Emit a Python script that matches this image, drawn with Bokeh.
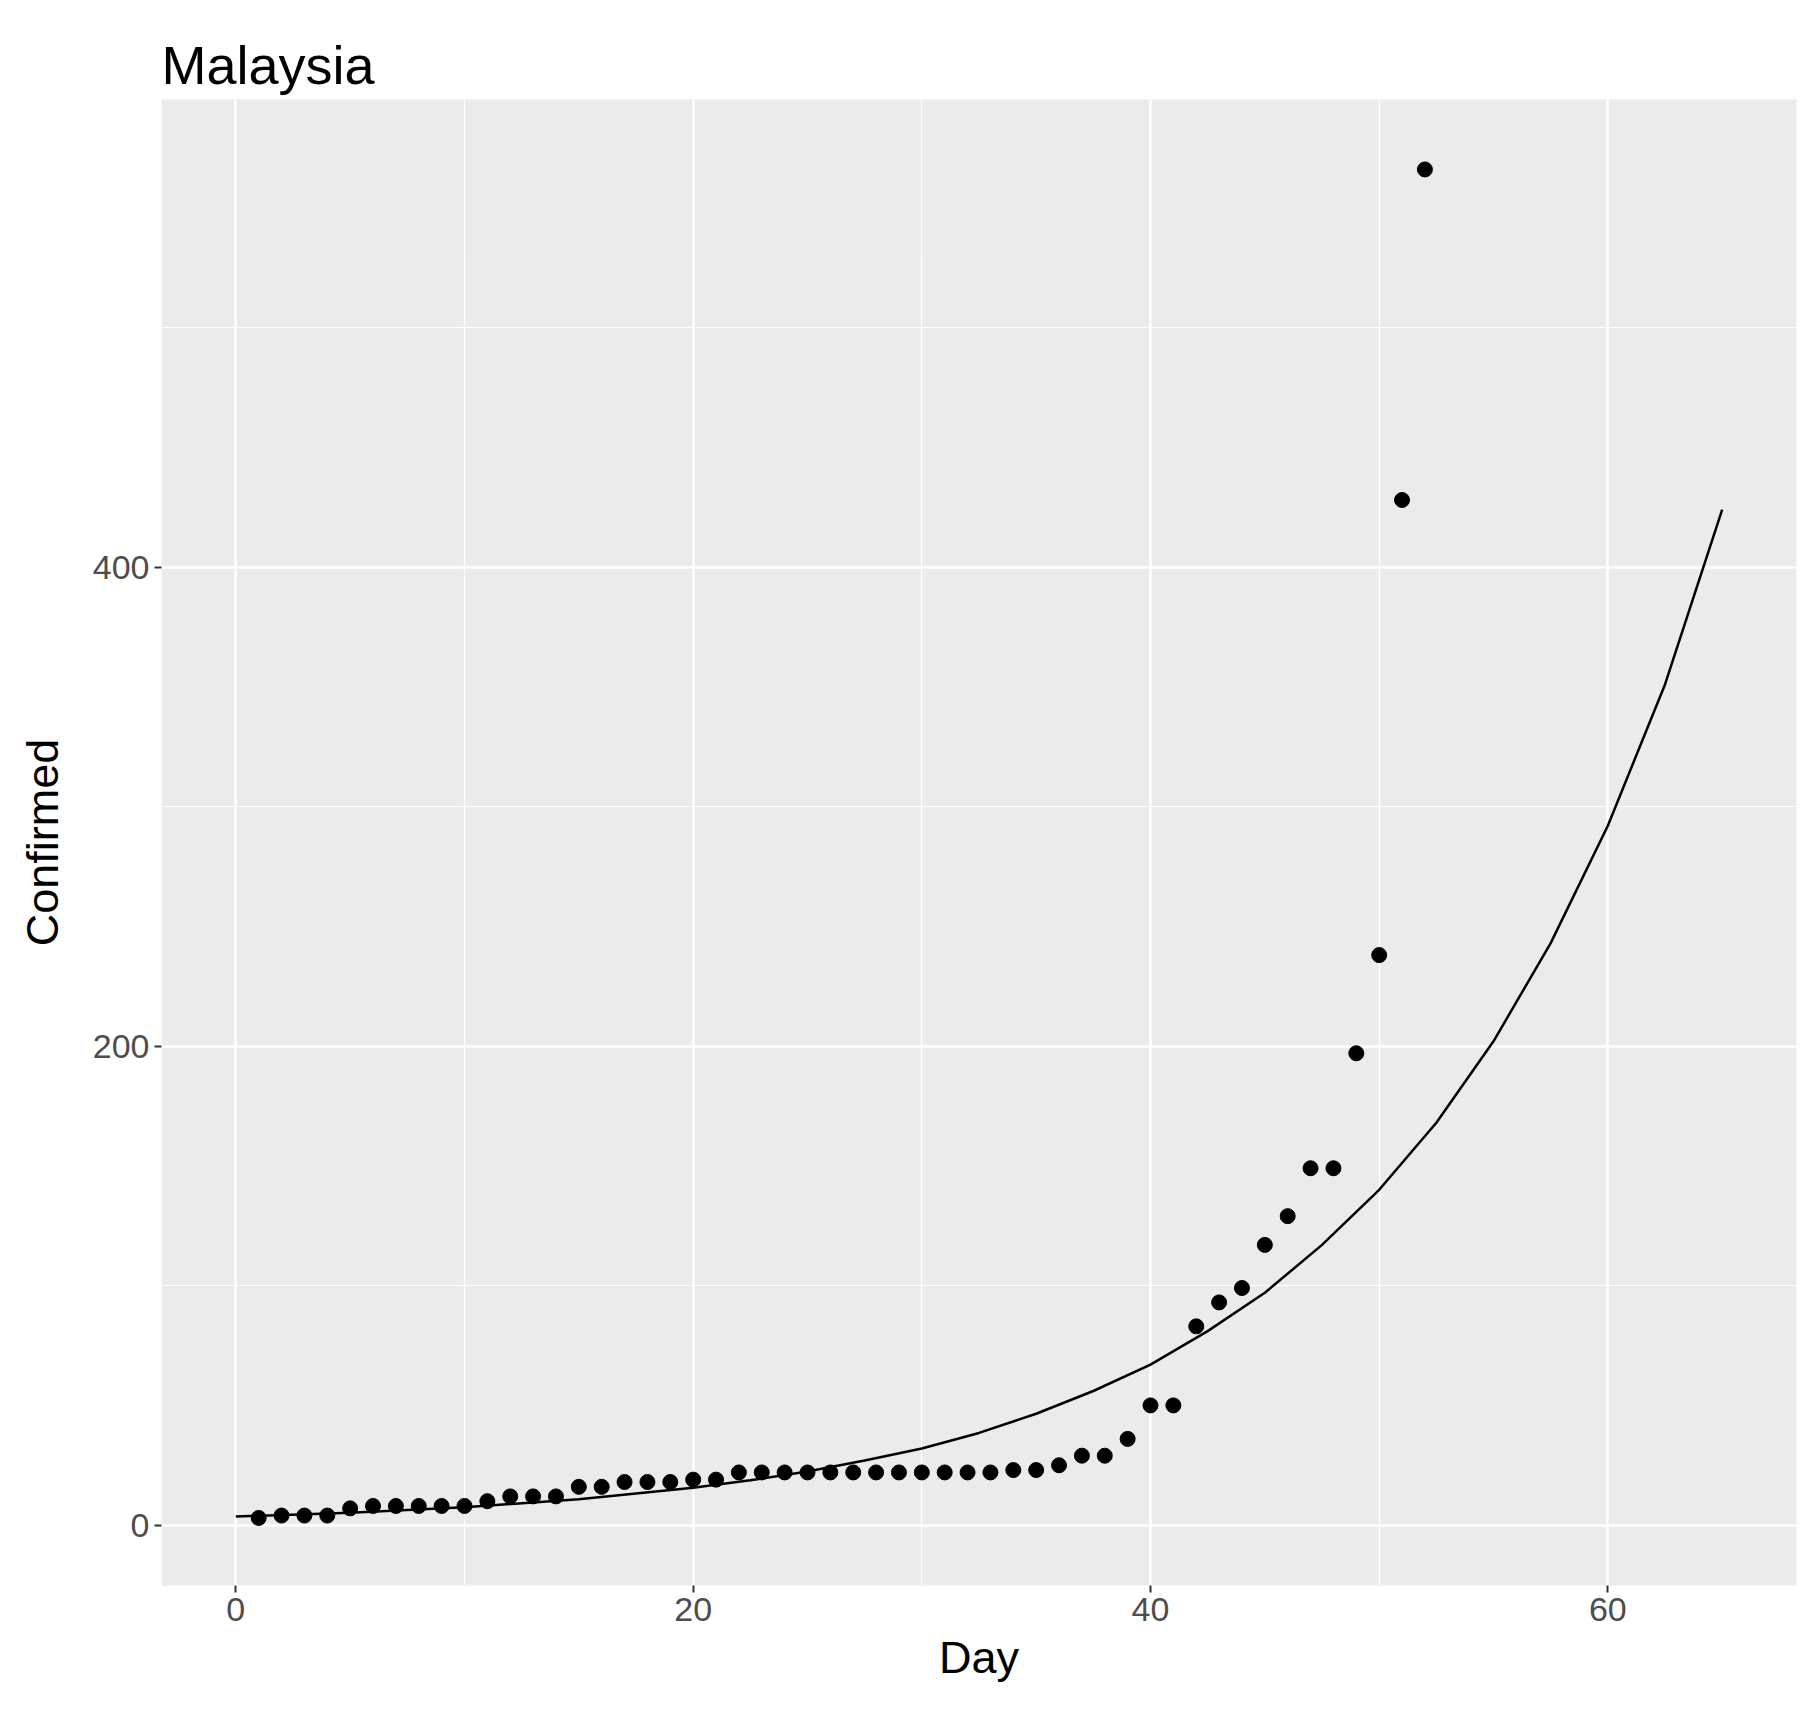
from bokeh.plotting import figure
from bokeh.models import Range1d, FixedTicker
from bokeh.embed import file_html
from bokeh.resources import INLINE

# observed confirmed cases per day
days = list(range(1, 53))
confirmed = [3, 4, 4, 4, 7, 8, 8, 8, 8, 8, 10, 12, 12, 12, 16, 16, 18, 18, 18, 19,
             19, 22, 22, 22, 22, 22, 22, 22, 22, 22, 22, 22, 22, 23, 23, 25, 29, 29, 36, 50,
             50, 83, 93, 99, 117, 129, 149, 149, 197, 238, 428, 566]

# fitted curve
fit_day = [0, 5, 10, 15, 20, 22.5, 25, 27.5, 30, 32.5, 35, 37.5, 40, 42.5, 45, 47.5,
           50, 52.5, 55, 57.5, 60, 62.5, 65]
fit_val = [3.6, 5.2, 7.5, 10.8, 15.6, 18.7, 22.4, 27, 32, 38.5, 46.5, 56, 67, 81, 97, 117,
           140, 168, 202, 243, 292, 351, 424]

p = figure(width=1802, height=1690, output_backend="svg", toolbar_location=None,
           x_range=Range1d(-3.25, 68.25), y_range=Range1d(-25.2, 595.2),
           title="Malaysia", min_border_left=161, min_border_right=6,
           min_border_bottom=105, min_border_top=99)

p.title.text_font = "Liberation Sans"
p.title.text_font_size = "54px"
p.title.text_font_style = "normal"
p.title.text_color = "black"

p.background_fill_color = "#EBEBEB"
p.outline_line_color = None

p.xaxis.ticker = FixedTicker(ticks=[0, 20, 40, 60], minor_ticks=[10, 30, 50])
p.yaxis.ticker = FixedTicker(ticks=[0, 200, 400], minor_ticks=[100, 300, 500])

for ax in (p.xaxis, p.yaxis):
    ax.axis_line_color = None
    ax.major_tick_line_color = "#333333"
    ax.major_tick_line_width = 2
    ax.major_tick_out = 7
    ax.major_tick_in = 0
    ax.minor_tick_line_color = None
    ax.major_label_text_font = "Liberation Sans"
    ax.major_label_text_font_size = "34px"
    ax.major_label_text_color = "#4D4D4D"
    ax.axis_label_text_font = "Liberation Sans"
    ax.axis_label_text_font_size = "45px"
    ax.axis_label_text_font_style = "normal"
    ax.axis_label_text_color = "black"

p.xaxis.axis_label = "Day"
p.yaxis.axis_label = "Confirmed"
p.yaxis.axis_label_standoff = 22
p.xaxis.axis_label_standoff = 8

for g in (p.xgrid, p.ygrid):
    g.grid_line_color = "white"
    g.grid_line_width = 2.5
    g.minor_grid_line_color = "white"
    g.minor_grid_line_width = 1.2

p.scatter(days, confirmed, size=15, color="black")
p.line(fit_day, fit_val, line_color="black", line_width=2.5)

open("out.html", "w").write(file_html(p, INLINE))
